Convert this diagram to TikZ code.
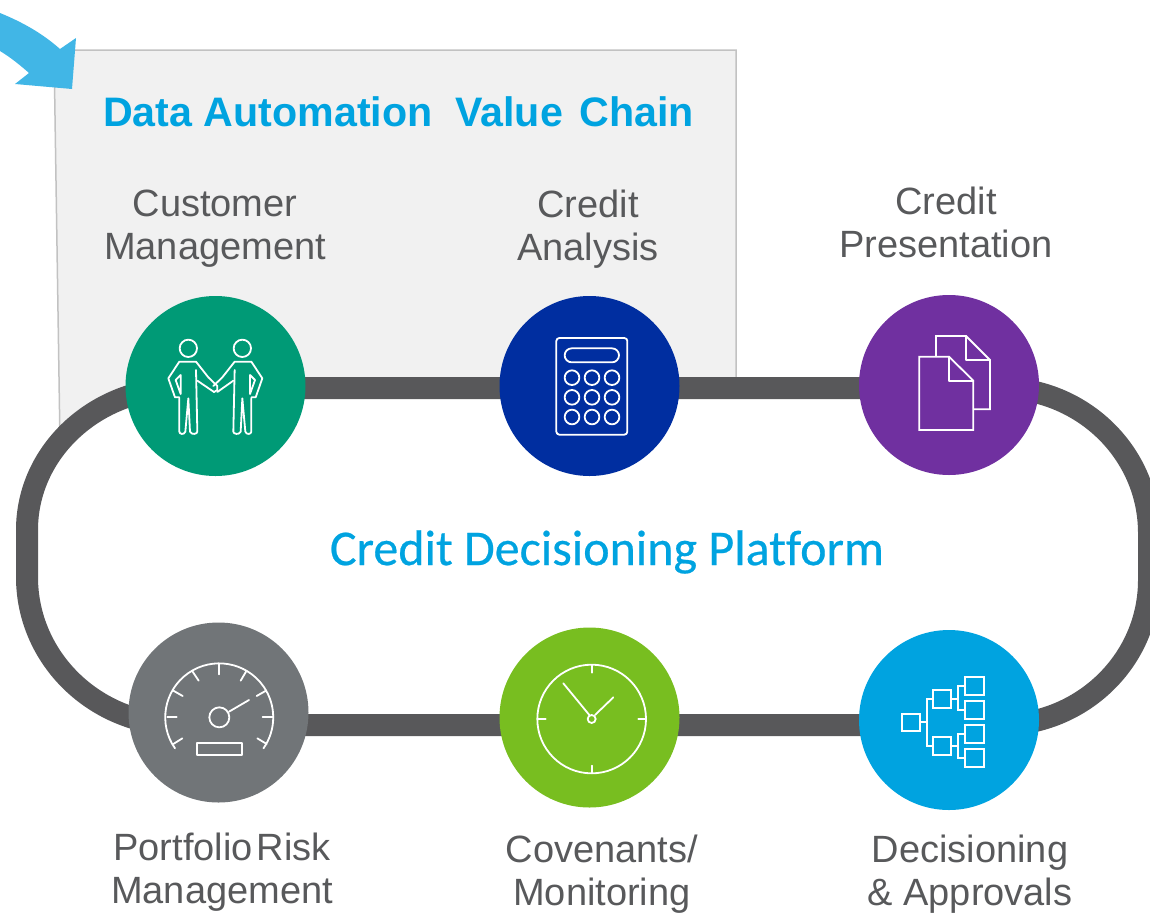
\documentclass[tikz,border=0pt]{standalone}
\usepackage{fontspec}
\setmainfont{Liberation Sans}
\newfontfamily\platformfont[FakeBold=0.5,Ligatures=CommonOff]{Carlito}
\definecolor{trackgray}{HTML}{58585A}
\definecolor{boxfill}{HTML}{F1F1F1}
\definecolor{boxline}{HTML}{C2C2C2}
\definecolor{arrowblue}{HTML}{41B6E6}
\definecolor{textblue}{HTML}{00A3E0}
\definecolor{labelgray}{HTML}{58595B}
\definecolor{custgreen}{HTML}{009A76}
\definecolor{analysisblue}{HTML}{002EA0}
\definecolor{prespurple}{HTML}{7030A0}
\definecolor{riskgray}{HTML}{717578}
\definecolor{covgreen}{HTML}{78BE20}
\tikzset{
  stage/.style={circle,minimum size=180pt,inner sep=0pt},
  steplabel/.style={text=labelgray,align=center,font=\fontsize{38}{43}\selectfont},
  icon/.style={draw=white,line width=1.8pt,line cap=round,line join=round},
  chartbox/.style={draw=white,line width=1.8pt},
}

\begin{document}
\begin{tikzpicture}[x=1pt,y=-1pt]

\clip (0,0) rectangle (1150,913);

\fill[boxfill] (54,50) -- (736,50) -- (736,388) -- (180,388) -- (130,396) -- (90,416) -- (60,442) -- cycle;
\draw[boxline,line width=1.5pt] (60,442) -- (54,50) -- (736,50) -- (736,388);

\fill[arrowblue] (0,13) .. controls (22,22) and (42,33) .. (60,49) -- (76,38) -- (72,89) -- (15,84) -- (29,73) .. controls (20,65) and (10,57) .. (0,51) -- cycle;

\coordinate (topleft) at (180,388);
\coordinate (topright) at (1000,388);
\coordinate (rightdown) at (1149,580);
\coordinate (botleft) at (180,725);
\coordinate (leftup) at (27,530);
\draw[trackgray,line width=22pt] (topleft) -- (topright) arc[start angle=270,end angle=360,x radius=149,y radius=145] -- (rightdown) arc[start angle=0,end angle=90,x radius=149,y radius=145] -- (botleft) arc[start angle=90,end angle=180,x radius=153,y radius=148] -- (leftup) arc[start angle=180,end angle=270,x radius=153,y radius=142] -- cycle;

\node[stage,fill=custgreen] (cust) at (215.5,386) {};
\node[stage,fill=analysisblue] (analysis) at (589.5,386) {};
\node[stage,fill=prespurple] (pres) at (949,385) {};
\node[stage,fill=riskgray] (risk) at (218.5,712.5) {};
\node[stage,fill=covgreen] (cov) at (589.5,717.5) {};
\node[stage,fill=textblue] (dec) at (949,720) {};

\node[text=textblue,font=\fontsize{41.2}{47}\selectfont\bfseries] (title) at (398.5,112) {Data Automation\hspace{0.55em}Value\hspace{0.4em}Chain};
\node[text=textblue,font=\fontsize{50}{56}\selectfont\platformfont] (platform) at (607,552) {Credit Decisioning Platform};

\node[steplabel] (custlabel) at (215,229) {Customer\\Management};
\node[steplabel] (analysislabel) at (588,229) {Credit\\Analysis};
\node[steplabel] (preslabel) at (946,222) {Credit\\Presentation};
\node[steplabel] (risklabel) at (222,872) {Portfolio\hspace{0.1em}Risk\\Management};
\node[steplabel] (covlabel) at (602,874) {Covenants/\\Monitoring};
\node[steplabel] (declabel) at (970,874) {Decisioning\\\& Approvals};

\begin{scope}[shift={(110,290)},scale=1/3]
\draw[icon] (235,175) circle (26);
\draw[icon] (258,240) -- (262,425) .. controls (262,432) and (245,436) .. (240,425) -- (235,325) -- (226,425) .. controls (222,436) and (208,432) .. (208,425) -- (208,325);
\draw[icon] (212,255) -- (197,270) -- (212,312) -- (212,255);
\draw[icon] (208,322) -- (195,322) -- (175,265) -- (208,215) -- (258,215) -- (295,262) -- (322,288) -- (322,300) -- (312,306) -- (262,272);
\draw[icon] (397,175) circle (26);
\draw[icon] (374,240) -- (370,425) .. controls (370,432) and (387,436) .. (392,425) -- (397,325) -- (406,425) .. controls (410,436) and (424,432) .. (424,425) -- (424,325);
\draw[icon] (420,255) -- (435,270) -- (420,312) -- (420,255);
\draw[icon] (424,322) -- (437,322) -- (457,265) -- (424,215) -- (374,215) -- (337,262) -- (310,288);
\draw[icon] (322,306) -- (370,272);
\end{scope}

\begin{scope}[shift={(490,290)},scale=1/3]
\draw[icon,rounded corners=3pt] (199,144) rectangle (412,434);
\draw[icon,rounded corners=7pt] (224,175) rectangle (387,217);
\draw[icon] (246,263) circle (22);
\draw[icon] (306,263) circle (22);
\draw[icon] (366,263) circle (22);
\draw[icon] (246,322) circle (22);
\draw[icon] (306,322) circle (22);
\draw[icon] (366,322) circle (22);
\draw[icon] (246,381) circle (22);
\draw[icon] (306,381) circle (22);
\draw[icon] (366,381) circle (22);
\end{scope}

\begin{scope}[shift={(850,290)},scale=1/3]
\draw[icon,line cap=butt,line join=miter] (258,200) -- (258,138) -- (348,138) -- (420,210) -- (420,358) -- (370,358);
\draw[icon] (348,138) -- (348,210) -- (420,210);
\draw[icon,line join=miter] (208,200) -- (297,200) -- (370,272) -- (370,420) -- (208,420) -- cycle;
\draw[icon] (297,200) -- (297,272) -- (370,272);
\end{scope}

\begin{scope}[shift={(120,620)},scale=1/3]
\draw[icon] (165,385) arc[start angle=145,end angle=395,radius=162];
\draw[icon] (142,292) -- (170,292);
\draw[icon] (160,212) -- (188,228);
\draw[icon] (218,155) -- (236,182);
\draw[icon] (298,133) -- (298,163);
\draw[icon] (378,155) -- (362,182);
\draw[icon] (438,212) -- (410,228);
\draw[icon] (460,292) -- (428,292);
\draw[icon] (160,372) -- (187,355);
\draw[icon] (440,372) -- (412,355);
\draw[icon] (298,292) circle (30);
\draw[icon] (327,275) -- (387,240);
\draw[icon] (232,370) rectangle (367,404);
\end{scope}

\begin{scope}[shift={(490,620)},scale=1/3]
\draw[icon] (305,297) circle (163);
\draw[icon] (305,135) -- (305,158);
\draw[icon] (305,437) -- (305,460);
\draw[icon] (143,297) -- (167,297);
\draw[icon] (445,297) -- (468,297);
\draw[icon] (305,297) circle (12);
\draw[icon] (298,285) -- (220,190);
\draw[icon] (315,285) -- (370,232);
\end{scope}

\begin{scope}[shift={(850,620)},scale=1/3]
\draw[chartbox] (156,281) rectangle (210,333);
\draw[chartbox] (250,210) rectangle (304,263);
\draw[chartbox] (250,352) rectangle (304,405);
\draw[chartbox] (346,171) rectangle (402,226);
\draw[chartbox] (346,244) rectangle (402,298);
\draw[chartbox] (346,316) rectangle (402,370);
\draw[chartbox] (346,388) rectangle (402,442);
\draw[chartbox] (210,307) -- (232,307);
\draw[chartbox] (250,237) -- (232,237) -- (232,378) -- (250,378);
\draw[chartbox] (304,237) -- (325,237);
\draw[chartbox] (346,198) -- (325,198) -- (325,270) -- (346,270);
\draw[chartbox] (304,378) -- (325,378);
\draw[chartbox] (346,343) -- (325,343) -- (325,415) -- (346,415);
\end{scope}

\end{tikzpicture}
\end{document}
